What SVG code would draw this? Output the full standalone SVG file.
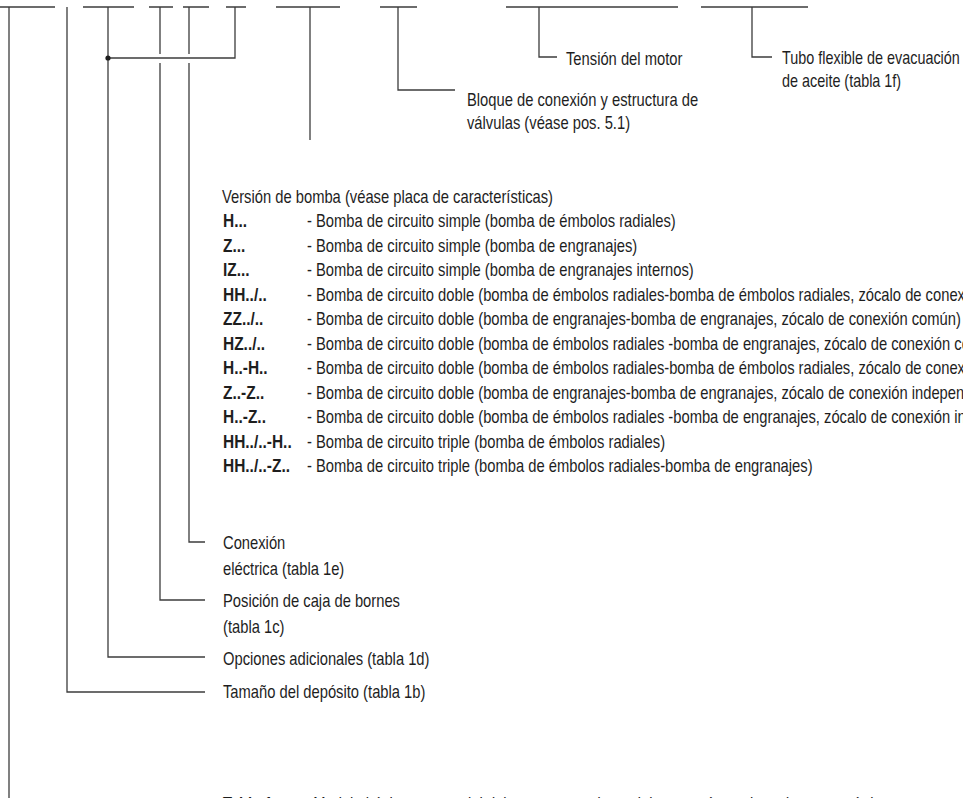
<svg xmlns="http://www.w3.org/2000/svg" width="963" height="798" viewBox="0 0 963 798">
<style>
.t{font-family:"Liberation Sans",Arial,sans-serif;font-size:18px;fill:#1e1e1e}
.b{font-weight:bold}
.ln{stroke:#3c3c3c;stroke-width:1.3;fill:none}
</style>
<rect width="963" height="798" fill="#ffffff"/>
<g id="connectors" class="ln">
  <path d="M0 7H55M83 7H134M149 7H173M183 7H209M226 7H246M276 7H340M380 7H417M506 7H678M701 7H808"/>
  <path d="M9 7V798"/>
  <path d="M67 7V692H205"/>
  <path d="M108 7V657H205"/>
  <path d="M160 7V54M160 63V600H205"/>
  <path d="M189 7V54M189 63V542H205"/>
  <path d="M235 7V58H108"/>
  <path d="M310 7V140"/>
  <path d="M398 7V90H455"/>
  <path d="M539 7V57H557"/>
  <path d="M752 7V57H772"/>
  <circle cx="108" cy="58" r="2.6" fill="#1e1e1e" stroke="none"/>
</g>
<g id="tension" transform="translate(566 0) scale(0.82 1)"><text class="t" x="0" y="65">Tensión del motor</text></g>
<g id="tubo" transform="translate(782 0) scale(0.8 1)"><text class="t" x="0" y="64">Tubo flexible de evacuación</text><text class="t" x="0" y="87">de aceite (tabla 1f)</text></g>
<g id="bloque" transform="translate(467 0) scale(0.82 1)"><text class="t" x="0" y="106">Bloque de conexión y estructura de</text><text class="t" x="0" y="129">válvulas (véase pos. 5.1)</text></g>
<g id="version">
  <g transform="translate(222 0) scale(0.82 1)">
  <text class="t" x="0" y="203">Versión de bomba (véase placa de características)</text>
  <text class="t" x="103.7" y="227.5">- Bomba de circuito simple (bomba de émbolos radiales)</text>
  <text class="t" x="103.7" y="252">- Bomba de circuito simple (bomba de engranajes)</text>
  <text class="t" x="103.7" y="276.5">- Bomba de circuito simple (bomba de engranajes internos)</text>
  <text class="t" x="103.7" y="301">- Bomba de circuito doble (bomba de émbolos radiales-bomba de émbolos radiales, zócalo de conexión común)</text>
  <text class="t" x="103.7" y="325.5">- Bomba de circuito doble (bomba de engranajes-bomba de engranajes, zócalo de conexión común)</text>
  <text class="t" x="103.7" y="350">- Bomba de circuito doble (bomba de émbolos radiales -bomba de engranajes, zócalo de conexión común)</text>
  <text class="t" x="103.7" y="374.5">- Bomba de circuito doble (bomba de émbolos radiales-bomba de émbolos radiales, zócalo de conexión independiente)</text>
  <text class="t" x="103.7" y="399">- Bomba de circuito doble (bomba de engranajes-bomba de engranajes, zócalo de conexión independiente)</text>
  <text class="t" x="103.7" y="423.5">- Bomba de circuito doble (bomba de émbolos radiales -bomba de engranajes, zócalo de conexión independiente)</text>
  <text class="t" x="103.7" y="448">- Bomba de circuito triple (bomba de émbolos radiales)</text>
  <text class="t" x="103.7" y="472.5">- Bomba de circuito triple (bomba de émbolos radiales-bomba de engranajes)</text>
  </g>
  <g transform="translate(223 0) scale(0.86 1)">
  <text class="t b" x="0" y="227.5">H...</text>
  <text class="t b" x="0" y="252">Z...</text>
  <text class="t b" x="0" y="276.5">IZ...</text>
  <text class="t b" x="0" y="301">HH../..</text>
  <text class="t b" x="0" y="325.5">ZZ../..</text>
  <text class="t b" x="0" y="350">HZ../..</text>
  <text class="t b" x="0" y="374.5">H..-H..</text>
  <text class="t b" x="0" y="399">Z..-Z..</text>
  <text class="t b" x="0" y="423.5">H..-Z..</text>
  <text class="t b" x="0" y="448">HH../..-H..</text>
  <text class="t b" x="0" y="472.5">HH../..-Z..</text>
  </g>
</g>
<g id="conexion" transform="translate(223 0) scale(0.82 1)"><text class="t" x="0" y="549">Conexión</text><text class="t" x="0" y="575">eléctrica (tabla 1e)</text></g>
<g id="posicion" transform="translate(223 0) scale(0.82 1)"><text class="t" x="0" y="607">Posición de caja de bornes</text><text class="t" x="0" y="633">(tabla 1c)</text></g>
<g id="opciones" transform="translate(223 0) scale(0.82 1)"><text class="t" x="0" y="665">Opciones adicionales (tabla 1d)</text></g>
<g id="tamano" transform="translate(223 0) scale(0.82 1)"><text class="t" x="0" y="698">Tamaño del depósito (tabla 1b)</text></g>
<g id="tabla1a" transform="translate(223 0) scale(0.82 1)"><text class="t" y="810"><tspan class="b" x="0">Tabla 1a:</tspan><tspan x="110">Modelo básico y potencial del motor, otros datos del motor véase placa de características</tspan></text></g>
</svg>
